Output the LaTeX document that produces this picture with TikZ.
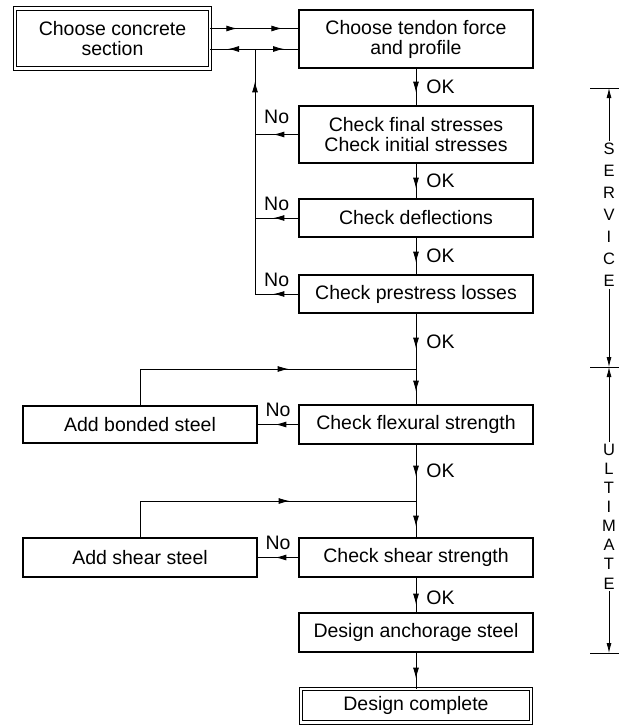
\documentclass[tikz,border=0pt]{standalone}
\usepackage{fontspec}
\setmainfont{Liberation Sans}
\usetikzlibrary{arrows.meta,decorations.markings}
\tikzset{
  stepbox/.style={draw,line width=1.2pt,minimum width=234pt,minimum height=#1,inner sep=1pt,align=center,font=\fontsize{19.5}{20}\selectfont},
  endbox/.style={stepbox=#1,double,line width=1pt,double distance=2.4pt},
  link/.style={line width=0.9pt},
  arrowat/.style={postaction={decorate,decoration={markings,mark=at position #1 with {\arrow{Latex[length=11pt,width=6pt]}}}}},
  lbl/.style={font=\fontsize{19.5}{20}\selectfont,inner sep=0pt},
  brk/.style={line width=0.8pt,-{Latex[length=10pt,width=5pt]}},
  phase/.style={align=center,inner sep=2pt,font=\fontsize{16.5}{#1}\selectfont},
}
\begin{document}
\begin{tikzpicture}[x=1pt,y=-1pt]
\useasboundingbox[fill=white] (0,0) rectangle (618,725);
% boxes
\node[endbox=59.6pt,minimum width=194.6pt] (concrete) at (112.5,38.5) {Choose concrete\\section};
\node[stepbox=58pt] (tendon) at (416,39) {Choose tendon force\\and profile};
\node[stepbox=57pt] (stresses) at (416,134.5) {Check final stresses\\Check initial stresses};
\node[stepbox=38pt] (deflect) at (416,218) {Check deflections};
\node[stepbox=38pt] (losses) at (416,294) {Check prestress losses};
\node[stepbox=39pt] (flexural) at (416,424.5) {Check flexural strength};
\node[stepbox=37pt] (bonded) at (140,424.5) {Add bonded steel};
\node[stepbox=39pt] (shear) at (416,557.5) {Check shear strength};
\node[stepbox=39pt] (shearsteel) at (140,557.5) {Add shear steel};
\node[stepbox=39pt] (anchor) at (416,632.5) {Design anchorage steel};
\node[endbox=33.5pt,minimum width=230pt] (complete) at (416,705.75) {Design complete};
\coordinate (fb) at (255,49);
\coordinate (jflex) at (416,369);
\coordinate (jshear) at (416,501);
% main line
\draw[link,arrowat=27pt,arrowat=72pt] ([yshift=10pt]concrete.east) -- ([yshift=10pt]concrete.east -| tendon.west);
\draw[link,arrowat=27pt] (fb) -- (fb -| concrete.east);
\draw[link,arrowat=29pt] (fb) -- (fb -| tendon.west);
\draw[link,arrowat=24pt] (tendon) -- node[lbl,right=10pt]{OK} (stresses);
\draw[link,arrowat=25pt] (stresses) -- node[lbl,right=10pt]{OK} (deflect);
\draw[link,arrowat=25pt] (deflect) -- node[lbl,right=10pt]{OK} (losses);
\draw[link,arrowat=35pt,arrowat=78pt] (losses) -- node[lbl,right=10pt,pos=0.315]{OK} (flexural);
\draw[link,arrowat=32pt,arrowat=82pt] (flexural) -- node[lbl,right=10pt,pos=0.28]{OK} (shear);
\draw[link,arrowat=27pt] (shear) -- node[lbl,right=10pt,pos=0.58]{OK} (anchor);
\draw[link,arrowat=26pt] (anchor) -- (complete);
% No branches
\draw[link,arrowat=25pt] (stresses.west) -- node[lbl,above=10pt]{No} (stresses.west -| fb);
\draw[link,arrowat=25pt] (deflect.west) -- node[lbl,above=7pt]{No} (deflect.west -| fb);
\draw[link,arrowat=25pt,arrowat=256pt] (losses.west) -| node[lbl,above=7pt,pos=0.25]{No} (fb);
\draw[link,arrowat=23pt] (flexural.west) -- node[lbl,above=7pt]{No} (bonded.east);
\draw[link,arrowat=185pt] (bonded.north) |- (jflex);
\draw[link,arrowat=23pt] (shear.west) -- node[lbl,above=7pt]{No} (shearsteel.east);
\draw[link,arrowat=186pt] (shearsteel.north) |- (jshear);
% phase brackets
\coordinate (s1) at (609,88);
\coordinate (s2) at (609,367);
\coordinate (s3) at (609,653);
\foreach \t in {s1,s2,s3} \draw[link] (\t) ++(-19,0) -- ++(31,0);
\node[phase=22pt] (service) at (609,215) {S\\E\\R\\V\\I\\C\\E};
\node[phase=19.1pt] (ultimate) at (609,516.5) {U\\L\\T\\I\\M\\A\\T\\E};
\draw[brk] (service.north) -- (s1);
\draw[brk] (service.south) -- (s2);
\draw[brk] (ultimate.north) -- (s2);
\draw[brk] (ultimate.south) -- (s3);
\end{tikzpicture}
\end{document}
